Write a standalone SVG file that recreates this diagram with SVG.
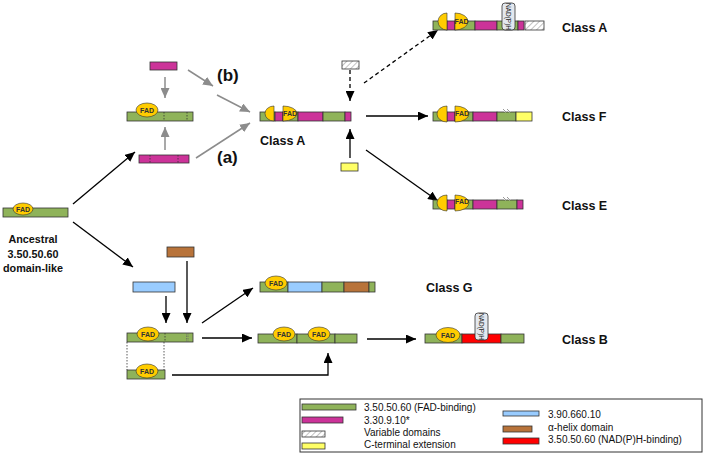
<svg xmlns="http://www.w3.org/2000/svg" width="706" height="455" viewBox="0 0 706 455">
<defs>
<marker id="ab" markerUnits="userSpaceOnUse" markerWidth="10" markerHeight="9" refX="10" refY="4.5" orient="auto"><path d="M0,0 L10,4.5 L0,9 z" fill="#000"/></marker>
<marker id="ag" markerUnits="userSpaceOnUse" markerWidth="10" markerHeight="9" refX="10" refY="4.5" orient="auto"><path d="M0,0 L10,4.5 L0,9 z" fill="#8c8c8c"/></marker>
<pattern id="hatch" patternUnits="userSpaceOnUse" width="4" height="4" patternTransform="rotate(45)"><rect width="4" height="4" fill="#fff"/><line x1="0" y1="0" x2="0" y2="4" stroke="#999" stroke-width="1.2"/></pattern>
</defs>
<style>
.g{fill:#8fb35a;stroke:#333;stroke-width:0.8}
.m{fill:#cc3399;stroke:#333;stroke-width:0.8}
.y{fill:#ffff66;stroke:#333;stroke-width:0.8}
.b{fill:#99ccff;stroke:#333;stroke-width:0.8}
.br{fill:#b8733a;stroke:#333;stroke-width:0.8}
.r{fill:#ff0000;stroke:#333;stroke-width:0.8}
.h{fill:url(#hatch);stroke:#333;stroke-width:0.8}
.f{fill:#ffcc00;stroke:#333;stroke-width:0.6}
.ft{font-family:"Liberation Sans",Arial,sans-serif;font-size:7px;font-weight:bold;fill:#333;text-anchor:middle}
.nad{fill:#e3e8ef;stroke:#333;stroke-width:0.8}
.nt{font-family:"Liberation Sans",Arial,sans-serif;font-size:6.5px;fill:#222;text-anchor:middle}
.cl{font-family:"Liberation Sans",Arial,sans-serif;font-size:12.5px;font-weight:bold;fill:#111}
.an{font-family:"Liberation Sans",Arial,sans-serif;font-size:10.8px;font-weight:bold;fill:#111;text-anchor:middle}
.lb{font-family:"Liberation Sans",Arial,sans-serif;font-size:17px;font-weight:bold;fill:#111}
.lg{font-family:"Liberation Sans",Arial,sans-serif;font-size:10px;fill:#111}
.dl{stroke:#333;stroke-width:0.8;stroke-dasharray:1.5,1.5;fill:none}
.ak{stroke:#000;stroke-width:1.3;fill:none;marker-end:url(#ab)}
.ag{stroke:#8c8c8c;stroke-width:1.5;fill:none;marker-end:url(#ag)}
</style>

<g id="connectors">
<line class="ak" x1="73" y1="204" x2="135" y2="152"/>
<line class="ak" x1="73" y1="222" x2="133" y2="267"/>
<line class="ag" x1="165" y1="77" x2="165" y2="98"/>
<line class="ag" x1="165" y1="150" x2="165" y2="127"/>
<line class="ag" x1="188" y1="70" x2="213" y2="86"/>
<line class="ag" x1="217" y1="95" x2="250" y2="112"/>
<line class="ag" x1="196" y1="158" x2="250" y2="123"/>
<line class="ak" x1="350" y1="70" x2="350" y2="101" stroke-dasharray="4,3"/>
<line class="ak" x1="350" y1="158" x2="350" y2="129"/>
<line class="ak" x1="364" y1="83" x2="438" y2="30" stroke-dasharray="4,3"/>
<line class="ak" x1="366" y1="116" x2="428" y2="116"/>
<line class="ak" x1="366" y1="150" x2="438" y2="201"/>
<line class="ak" x1="166" y1="296" x2="166" y2="323"/>
<line class="ak" x1="187" y1="261" x2="187" y2="323"/>
<line class="ak" x1="202" y1="323" x2="253" y2="288"/>
<line class="ak" x1="202" y1="338" x2="252" y2="338"/>
<polyline class="ak" points="172,375 328,375 328,353"/>
<line class="ak" x1="367" y1="339" x2="416" y2="339"/>
<line class="dl" x1="127" y1="342" x2="127" y2="370"/>
<line class="dl" x1="164" y1="342" x2="164" y2="370"/>
</g>

<g id="ancestral">
<rect class="g" x="3" y="208" width="65" height="9"/>
<ellipse class="f" cx="23" cy="209" rx="10" ry="6"/>
<text class="ft" x="23" y="211.5">FAD</text>
<text class="an" x="33" y="243">Ancestral</text>
<text class="an" x="33" y="258">3.50.50.60</text>
<text class="an" x="33" y="272">domain-like</text>
</g>

<g id="magenta-top">
<rect class="m" x="150" y="62" width="27" height="8"/>
</g>

<g id="fad-mid">
<rect class="g" x="127" y="112" width="66" height="9"/>
<line class="dl" x1="164" y1="112" x2="164" y2="121"/>
<line class="dl" x1="187" y1="112" x2="187" y2="121"/>
<ellipse class="f" cx="147" cy="110" rx="11" ry="7"/>
<text class="ft" x="147" y="112.5">FAD</text>
</g>

<g id="magenta-bottom">
<rect class="m" x="139" y="155" width="50" height="8"/>
<line class="dl" x1="150" y1="155" x2="150" y2="163"/>
<line class="dl" x1="178" y1="155" x2="178" y2="163"/>
</g>

<g id="labels-ab">
<text class="lb" x="217" y="81">(b)</text>
<text class="lb" x="217" y="163">(a)</text>
</g>

<g id="classA-center">
<rect class="g" x="260" y="112" width="15" height="9"/>
<rect class="m" x="275" y="112" width="8" height="9"/>
<rect class="g" x="283" y="112" width="15" height="9"/>
<rect class="m" x="298" y="112" width="25" height="9"/>
<rect class="g" x="323" y="112" width="22" height="9"/>
<rect class="m" x="345" y="112" width="6" height="9"/>
<path class="f" d="M274,106 A9,7.5 0 0 0 274,121 Z"/>
<path class="f" d="M283,106 A14,7.5 0 0 1 283,121 Z"/>
<text class="ft" x="290" y="116">FAD</text>
<text class="cl" x="260" y="145">Class A</text>
</g>

<g id="variable-box">
<rect class="h" x="342" y="61" width="17" height="8"/>
</g>

<g id="cterm-box">
<rect class="y" x="341" y="163" width="17" height="8"/>
</g>

<g id="classA-top">
<rect class="g" x="433" y="21" width="14" height="9"/>
<rect class="m" x="447" y="21" width="8" height="9"/>
<rect class="g" x="455" y="21" width="20" height="9"/>
<rect class="m" x="475" y="21" width="22" height="9"/>
<rect class="g" x="497" y="21" width="21" height="9"/>
<rect class="m" x="518" y="21" width="6" height="9"/>
<rect class="h" x="525" y="21" width="19" height="9"/>
<path class="f" d="M447,13 A9,8.5 0 0 0 447,30 Z"/>
<path class="f" d="M455,13 A13,8.5 0 0 1 455,30 Z"/>
<text class="ft" x="461.5" y="24">FAD</text>
<rect class="nad" x="502" y="3" width="13" height="27" rx="3"/>
<text class="nt" transform="translate(508.5,16.5) rotate(90)" y="2.3">NAD(P)H</text>
<text class="cl" x="562" y="32">Class A</text>
</g>

<g id="classF">
<rect class="g" x="433" y="112" width="14" height="9"/>
<rect class="m" x="447" y="112" width="8" height="9"/>
<rect class="g" x="455" y="112" width="18" height="9"/>
<rect class="m" x="473" y="112" width="24" height="9"/>
<rect class="g" x="497" y="112" width="19" height="9"/>
<rect class="y" x="516" y="112" width="16" height="9"/>
<path class="f" d="M447,106 A10,8 0 0 0 447,122 Z"/>
<path class="f" d="M455,106 A14,8 0 0 1 455,122 Z"/>
<text class="ft" x="462" y="116">FAD</text>
<path d="M503,109 L506,112 M507,109 L510,112" stroke="#fff" stroke-width="1.6"/>
<path d="M503,109 L506,112 M507,109 L510,112" stroke="#555" stroke-width="0.6"/>
<text class="cl" x="562" y="121">Class F</text>
</g>

<g id="classE">
<rect class="g" x="433" y="200" width="14" height="9"/>
<rect class="m" x="447" y="200" width="8" height="9"/>
<rect class="g" x="455" y="200" width="18" height="9"/>
<rect class="m" x="473" y="200" width="24" height="9"/>
<rect class="g" x="497" y="200" width="20" height="9"/>
<rect class="m" x="517" y="200" width="6" height="9"/>
<path class="f" d="M447,195 A10,8 0 0 0 447,211 Z"/>
<path class="f" d="M455,195 A14,8 0 0 1 455,211 Z"/>
<text class="ft" x="462" y="204">FAD</text>
<path d="M503,197 L506,200 M507,197 L510,200" stroke="#fff" stroke-width="1.6"/>
<path d="M503,197 L506,200 M507,197 L510,200" stroke="#555" stroke-width="0.6"/>
<text class="cl" x="562" y="210">Class E</text>
</g>

<g id="brown-box">
<rect class="br" x="167" y="247" width="27" height="10"/>
</g>

<g id="blue-box">
<rect class="b" x="133" y="282" width="42" height="10"/>
</g>

<g id="fad-bottom">
<rect class="g" x="127" y="333" width="66" height="9"/>
<line class="dl" x1="165" y1="333" x2="165" y2="342"/>
<line x1="186.5" y1="333" x2="186.5" y2="342" stroke="#666" stroke-width="0.7" stroke-dasharray="1.5,1"/>
<line x1="188" y1="333" x2="188" y2="342" stroke="#666" stroke-width="0.7" stroke-dasharray="1.5,1"/>
<ellipse class="f" cx="148" cy="334" rx="11" ry="7"/>
<text class="ft" x="148" y="336.5">FAD</text>
</g>

<g id="fad-copy">
<rect class="g" x="127" y="370" width="38" height="9"/>
<ellipse class="f" cx="147" cy="371" rx="11" ry="7"/>
<text class="ft" x="147" y="373.5">FAD</text>
</g>

<g id="classG">
<rect class="g" x="260" y="282" width="28" height="10"/>
<rect class="b" x="288" y="282" width="34" height="10"/>
<rect class="g" x="322" y="282" width="22" height="10"/>
<rect class="br" x="344" y="282" width="25" height="10"/>
<rect class="g" x="369" y="282" width="6" height="10"/>
<ellipse class="f" cx="276" cy="283" rx="11" ry="7"/>
<text class="ft" x="276" y="285.5">FAD</text>
<text class="cl" x="426" y="292">Class G</text>
</g>

<g id="two-fad">
<rect class="g" x="258" y="334" width="39" height="9"/>
<rect class="g" x="297" y="334" width="38" height="9"/>
<rect class="g" x="335" y="334" width="22" height="9"/>
<ellipse class="f" cx="284" cy="334" rx="11" ry="7"/>
<text class="ft" x="284" y="336.5">FAD</text>
<ellipse class="f" cx="319" cy="334" rx="11" ry="7"/>
<text class="ft" x="319" y="336.5">FAD</text>
</g>

<g id="classB">
<rect class="g" x="425" y="334" width="37" height="9"/>
<rect class="r" x="462" y="334" width="39" height="9"/>
<rect class="g" x="501" y="334" width="23" height="9"/>
<ellipse class="f" cx="448" cy="335" rx="12" ry="7.5"/>
<text class="ft" x="448" y="337.5">FAD</text>
<rect class="nad" x="475" y="313" width="13" height="27" rx="3"/>
<text class="nt" transform="translate(481.5,326.5) rotate(90)" y="2.3">NAD(P)H</text>
<text class="cl" x="562" y="344">Class B</text>
</g>

<g id="legend">
<rect x="300" y="399" width="402" height="53" fill="#fff" stroke="#333" stroke-width="1"/>
<rect class="g" x="302" y="404" width="54" height="6"/>
<rect class="m" x="302" y="417" width="41" height="6"/>
<rect class="h" x="302" y="431" width="23" height="6"/>
<rect class="y" x="302" y="443" width="23" height="6"/>
<text class="lg" x="364" y="411">3.50.50.60 (FAD-binding)</text>
<text class="lg" x="364" y="424">3.30.9.10*</text>
<text class="lg" x="364" y="436">Variable domains</text>
<text class="lg" x="364" y="448">C-terminal extension</text>
<rect class="b" x="503" y="411" width="36" height="5"/>
<rect class="br" x="503" y="426" width="29" height="6"/>
<rect class="r" x="503" y="438" width="36" height="6"/>
<text class="lg" x="548" y="418">3.90.660.10</text>
<text class="lg" x="548" y="431">α-helix domain</text>
<text class="lg" x="548" y="443">3.50.50.60 (NAD(P)H-binding)</text>
</g>
</svg>
